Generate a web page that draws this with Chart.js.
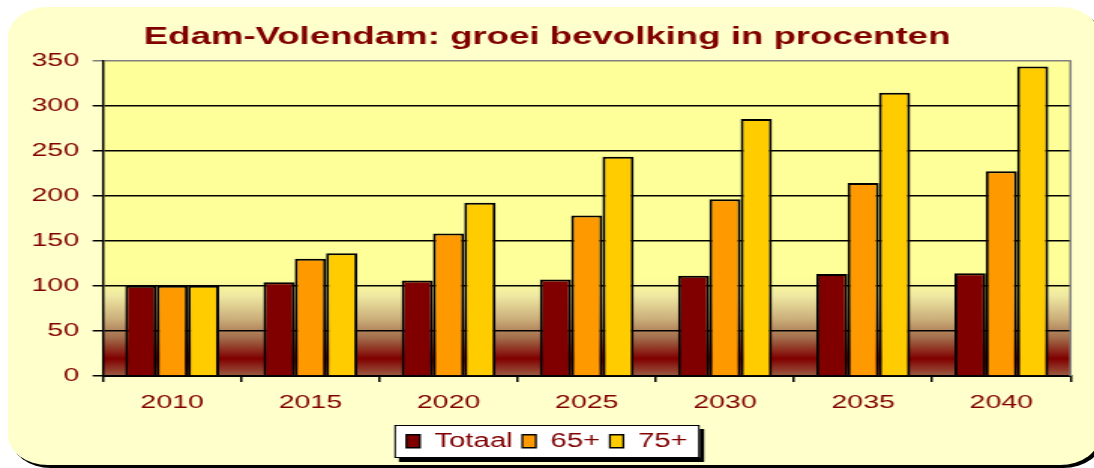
<!DOCTYPE html>
<html>
<head>
<meta charset="utf-8">
<title>Edam-Volendam: groei bevolking in procenten</title>
<script src="https://cdn.jsdelivr.net/npm/chart.js@4/dist/chart.umd.min.js"></script>
<style>
    body { margin: 0; background: #fff; width: 1094px; height: 468px; overflow: hidden; position: relative; }
    #frame {
        position: absolute; left: 8px; top: 7px; width: 1092px; height: 458px;
        background: #FFFFCC; border-radius: 40px / 30px; box-shadow: 3px 3px 0 #000;
    }
    /* the original picture is stretched sideways, so the canvas is too */
    #chart { position: absolute; left: 0; top: 0; transform: scaleX(1.5007); transform-origin: 0 0; }
</style>
</head>
<body>
<div id="frame"></div>
<canvas id="chart" width="729" height="468"></canvas>
<script>
// data
const years = ["2010", "2015", "2020", "2025", "2030", "2035", "2040"];
const totaal = [100, 104, 106, 107, 111, 113, 114];
const plus65 = [100, 130, 158, 178, 196, 214, 227];
const plus75 = [100, 136, 192, 243, 285, 314, 343];
const yTicks = [0, 50, 100, 150, 200, 250, 300, 350];

const darkRed = "#800000";
const font = "Arial, 'Liberation Sans', sans-serif";

// yellow plot area fading into a brown/red band near the bottom, plus the legend frame
const plotBackground = {
    id: "plotBackground",
    beforeDraw(chart) {
        const ctx = chart.ctx;
        const a = chart.chartArea;
        const g = ctx.createLinearGradient(0, a.top, 0, a.bottom);
        g.addColorStop(0, "#FFFF99");
        g.addColorStop(0.69, "#FFFF99");
        g.addColorStop(0.745, "#EFE9A2");
        g.addColorStop(0.82, "#CBAE7A");
        g.addColorStop(0.88, "#A26C4A");
        g.addColorStop(0.945, "#800000");
        g.addColorStop(1, "#9C5C42");
        ctx.save();
        ctx.fillStyle = g;
        ctx.fillRect(a.left, a.top, a.right - a.left, a.bottom - a.top);

        const lg = chart.legend;
        const boxes = lg.legendHitBoxes;
        if (boxes && boxes.length) {
            const l = Math.min(...boxes.map(b => b.left)) - 8;
            const r = Math.max(...boxes.map(b => b.left + b.width)) + 8;
            const t = lg.top;
            const h = 33;
            ctx.fillStyle = "#000";
            ctx.fillRect(l + 3, t + 4, r - l, h);
            ctx.fillStyle = "#fff";
            ctx.fillRect(l, t, r - l, h);
            ctx.strokeStyle = "#000";
            ctx.lineWidth = 1;
            ctx.strokeRect(l + 0.5, t + 0.5, r - l - 1, h - 1);
        }
        ctx.restore();
    },
    afterDatasetsDraw(chart) {
        const ctx = chart.ctx;
        const a = chart.chartArea;
        ctx.save();
        ctx.strokeStyle = "#808080";
        ctx.lineWidth = 1.5;
        ctx.beginPath();
        ctx.moveTo(a.right, a.top);
        ctx.lineTo(a.right, a.bottom);
        ctx.stroke();
        ctx.restore();
    }
};

const ctx = document.getElementById("chart").getContext("2d");
const chart = new Chart(ctx, {
    type: "bar",
    data: {
        labels: years,
        datasets: [
            { label: "Totaal", data: totaal, backgroundColor: "#800000", borderColor: "#000", borderWidth: 2 },
            { label: "65+", data: plus65, backgroundColor: "#FF9900", borderColor: "#000", borderWidth: 2 },
            { label: "75+", data: plus75, backgroundColor: "#FFCC00", borderColor: "#000", borderWidth: 2 }
        ]
    },
    options: {
        responsive: false,
        maintainAspectRatio: false,
        animation: false,
        devicePixelRatio: 1,
        datasets: { bar: { categoryPercentage: 0.68, barPercentage: 1.0 } },
        layout: { padding: { left: 0, right: 0, top: 0, bottom: 7 } },
        plugins: {
            title: {
                display: true,
                text: "Edam-Volendam: groei bevolking in procenten",
                color: darkRed,
                font: { family: font, size: 24.4, weight: "bold" },
                padding: { top: 22.4, bottom: 8.6 }
            },
            legend: {
                position: "bottom",
                labels: {
                    color: darkRed,
                    font: { family: font, size: 19.5 },
                    boxWidth: 9,
                    boxHeight: 13,
                    padding: 6.5,
                    generateLabels(chart) {
                        const items = Chart.defaults.plugins.legend.labels.generateLabels(chart);
                        items.forEach(it => { it.lineWidth = 1.3; });
                        return items;
                    }
                }
            },
            tooltip: { enabled: false }
        },
        scales: {
            x: {
                grid: { drawOnChartArea: false, drawTicks: true, tickLength: 6, color: "#000", lineWidth: 1.5, offset: true },
                border: { display: true, color: "#000", width: 2 },
                ticks: { color: darkRed, font: { family: font, size: 19 }, padding: 9 },
                afterFit(scale) { scale.height = 49; }
            },
            y: {
                min: 0,
                max: 350,
                afterBuildTicks(scale) { scale.ticks = yTicks.map(v => ({ value: v })); },
                grid: {
                    color: c => (c.tick && c.tick.value === 350 ? "#808080" : "#000"),
                    lineWidth: 1.5,
                    tickLength: 7
                },
                border: { display: true, color: "#000", width: 1.5 },
                ticks: { color: darkRed, font: { family: font, size: 19 }, padding: 9 },
                afterFit(scale) { scale.width = 68.7; }
            },
            yRight: {
                type: "linear",
                position: "right",
                display: true,
                grid: { display: false },
                border: { display: false },
                ticks: { display: false },
                afterFit(scale) { scale.width = 15.7; }
            }
        }
    },
    plugins: [plotBackground]
});
</script>
</body>
</html>
